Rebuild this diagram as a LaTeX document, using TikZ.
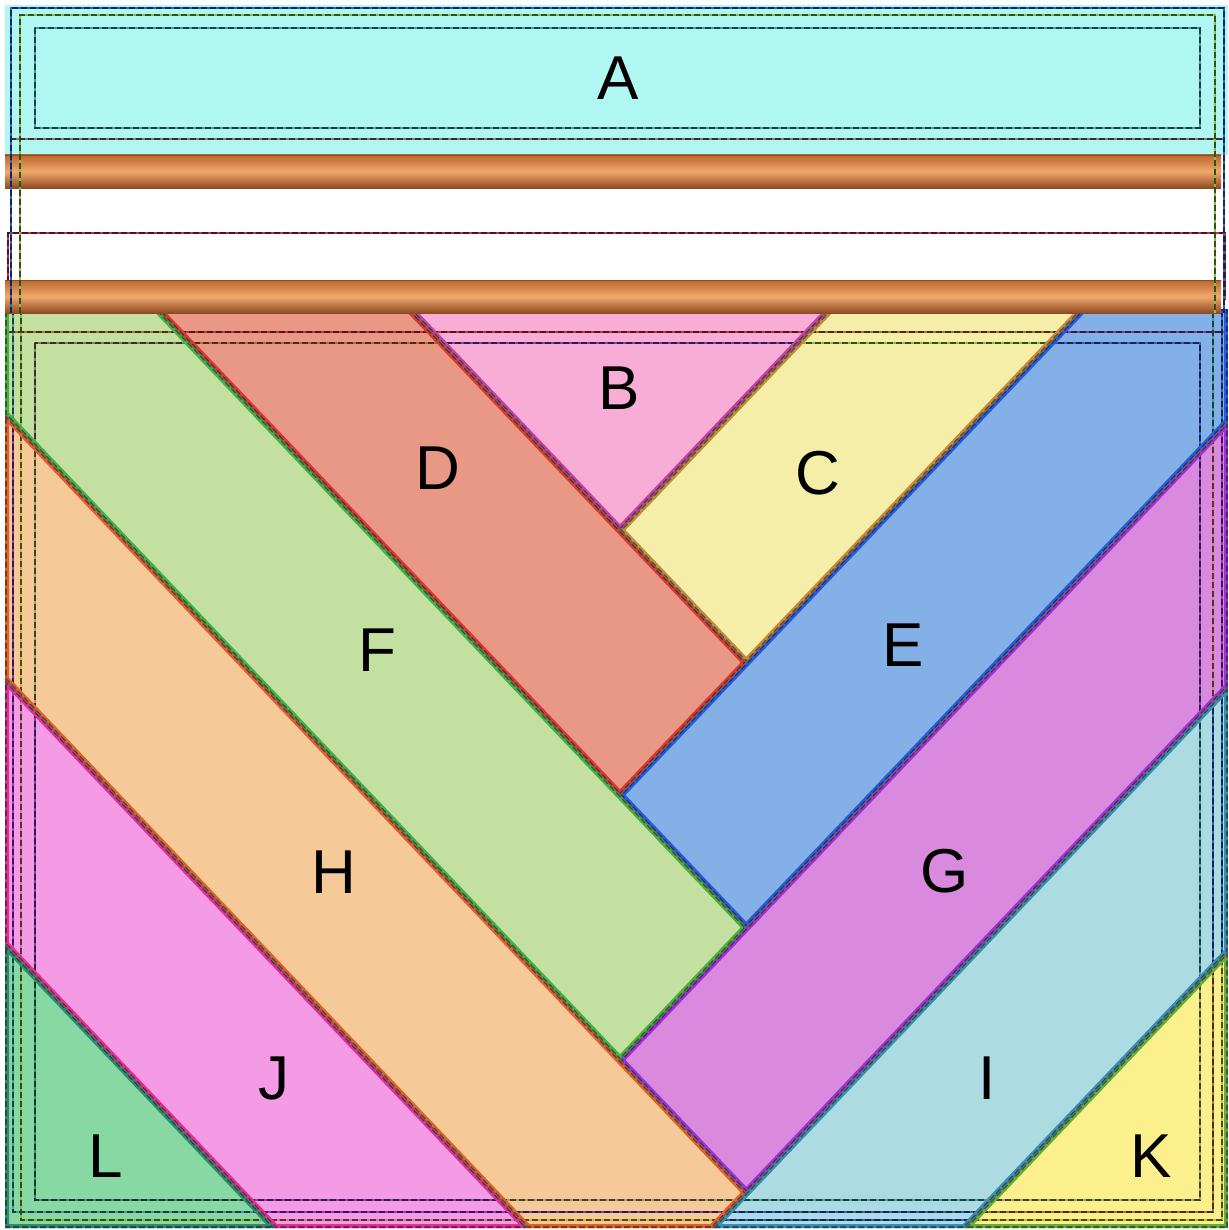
\documentclass[tikz,border=0pt]{standalone}
\usepackage{fontspec}
\newfontfamily\labfont{Liberation Sans}
\definecolor{cA}{HTML}{B0F6F2}
\definecolor{cB}{HTML}{F8ADD6}
\definecolor{cC}{HTML}{F4EEA8}
\definecolor{cD}{HTML}{E89884}
\definecolor{cE}{HTML}{84B0E8}
\definecolor{cF}{HTML}{C4E0A0}
\definecolor{cG}{HTML}{DA8ADE}
\definecolor{cH}{HTML}{F5CA98}
\definecolor{cI}{HTML}{ACDCE2}
\definecolor{cJ}{HTML}{F59AE4}
\definecolor{cK}{HTML}{FCF08C}
\definecolor{cL}{HTML}{88D8A4}
\definecolor{eB}{HTML}{C8409E}
\definecolor{eC}{HTML}{C88A3A}
\definecolor{eD}{HTML}{D83A30}
\definecolor{eE}{HTML}{2A5AD8}
\definecolor{eF}{HTML}{48B040}
\definecolor{eG}{HTML}{9A34D0}
\definecolor{eH}{HTML}{E0602C}
\definecolor{eI}{HTML}{3A8EB0}
\definecolor{eJ}{HTML}{E03090}
\definecolor{eK}{HTML}{60B040}
\definecolor{eL}{HTML}{308A70}
\definecolor{sTeal}{HTML}{409AA8}
\definecolor{sGray}{HTML}{8A7A6A}
\definecolor{sBlue}{HTML}{3060C8}
\definecolor{sGreen}{HTML}{88C040}
\definecolor{sRed}{HTML}{C83040}
\definecolor{sBrown}{HTML}{B07030}
\definecolor{sPurple}{HTML}{7A40B0}
\definecolor{sOlive}{HTML}{A0A070}
\definecolor{sYel}{HTML}{D0B830}
\definecolor{sSalmon}{HTML}{D08080}
\definecolor{barDark}{HTML}{B8682E}
\definecolor{barDark2}{HTML}{8E4A22}
\definecolor{barLight}{HTML}{F2A86C}
\tikzset{
  st/.style={draw=#1, line width=1.4pt,
    postaction={draw=#1!40!black, line width=0.6pt, dash pattern=on 3pt off 1.5pt}},
  lab/.style={font=\labfont\fontsize{31}{31}\selectfont, inner sep=0pt, text=black},
  seam/.style={draw=black!60, line width=0.6pt},
  rod/.style={top color=barDark, bottom color=barDark2, middle color=barLight}
}
% #1 fill, #2 edge, #3 inner rect, #4 line at 332, #5 frame 1, #6 frame 2, #7 path
\newcommand\patch[7]{%
  \begin{scope}
    \clip #7;
    \fill[#1] #7;
    \draw[st=#3] (35,343) rectangle (1200,1200);
    \draw[st=#4] (0,332) -- (1229,332);
    \draw[st=#5] (13,300) -- (13,1212) -- (1213,1212) -- (1213,300);
    \draw[st=#6] (21,300) -- (21,1220) -- (1222,1220) -- (1222,300);
    \draw[line width=4pt, draw=#2] #7;
    \draw[line width=1.8pt, draw=#2!55!black, dash pattern=on 3pt off 1.5pt] #7;
  \end{scope}}
\begin{document}
\begin{tikzpicture}[x=0.5pt,y=-0.5pt]
\useasboundingbox (0,0) rectangle (1229,1230);
\fill[white] (0,0) rectangle (1229,1230);

% ---- top band A
\fill[cA] (5,5) rectangle (1228,155);
\draw[st=sTeal] (35,28) rectangle (1200,128);
\draw[st=sGray] (10,139) -- (1224,139);

% ---- chevron patches
\patch{cB}{eB}{sPurple}{sRed}{sBlue}{sGreen}{(409.5,309) -- (830.5,309) -- (620,530) -- cycle}
\patch{cC}{eC}{sGreen}{sBrown}{sBlue}{sGreen}{(830.5,309) -- (1082.9,309) -- (746.2,662.5) -- (620,530) -- cycle}
\patch{cD}{eD}{sBrown}{sRed}{sBlue}{sGreen}{(157.1,309) -- (409.5,309) -- (620,530) -- (746.2,662.5) -- (620,795) -- cycle}
\patch{cE}{eE}{sBlue}{sPurple}{sTeal}{sBlue}{(1082.9,309) -- (1228,309) -- (1228,421.6) -- (746.2,927.5) -- (620,795) -- (746.2,662.5) -- cycle}
\patch{cF}{eF}{sGray}{sBrown}{sTeal}{sGreen}{(5,309) -- (157.1,309) -- (620,795) -- (746.2,927.5) -- (620,1060) -- (5,414.25) -- cycle}
\patch{cG}{eG}{sPurple}{sPurple}{sSalmon}{eG}{(1228,421.6) -- (1228,686.6) -- (746.2,1192.5) -- (620,1060) -- (746.2,927.5) -- cycle}
\patch{cH}{eH}{sOlive}{sBrown}{sPurple}{sYel}{(5,414.25) -- (620,1060) -- (746.2,1192.5) -- (712.4,1228) -- (527.6,1228) -- (5,679.25) -- cycle}
\patch{cI}{eI}{sTeal}{sTeal}{sBlue}{sBlue}{(1228,686.6) -- (1228,951.6) -- (964.8,1228) -- (712.4,1228) -- (746.2,1192.5) -- cycle}
\patch{cJ}{eJ}{sPurple}{sPurple}{eG}{sSalmon}{(5,679.25) -- (527.6,1228) -- (275.2,1228) -- (5,944.25) -- cycle}
\patch{cK}{eK}{sOlive}{sOlive}{sBrown}{sYel}{(1228,951.6) -- (1228,1228) -- (964.8,1228) -- cycle}
\patch{cL}{eL}{eL}{eL}{sTeal}{sGreen}{(5,944.25) -- (275.2,1228) -- (5,1228) -- cycle}

% ---- seams between patches
\coordinate (l1a) at (409.5,309);  \coordinate (l1b) at (746.2,662.5);
\coordinate (m1a) at (830.5,309);  \coordinate (m1b) at (620,530);
\coordinate (l2a) at (157.1,309);  \coordinate (l2b) at (746.2,927.5);
\coordinate (m2a) at (1082.9,309); \coordinate (m2b) at (620,795);
\coordinate (l3a) at (5,414.25);   \coordinate (l3b) at (746.2,1192.5);
\coordinate (m3a) at (1228,421.6); \coordinate (m3b) at (620,1060);
\coordinate (m4a) at (1228,686.6); \coordinate (m4b) at (712.4,1228);
\coordinate (l4a) at (5,679.25);   \coordinate (l4b) at (527.6,1228);
\coordinate (m5a) at (1228,951.6); \coordinate (m5b) at (964.8,1228);
\coordinate (l5a) at (5,944.25);   \coordinate (l5b) at (275.2,1228);
\foreach \p in {l1,m1,l2,m2,l3,m3,m4,l4,m5,l5}{\draw[seam] (\p a) -- (\p b);}

% ---- rods and the space between them
\draw[st=sRed] (8,300) -- (8,233) -- (1225,233) -- (1225,300);
\shade[rod] (5,155) rectangle (1221,188);
\shade[rod] (5,280) rectangle (1221,313);
\draw[line width=0.4pt, barDark2] (5,155) -- (1221,155) (5,188) -- (1221,188)
  (5,280) -- (1221,280) (5,313) -- (1221,313);
\draw[st=sBlue] (11,313) -- (11,8) -- (1224,8) -- (1224,313);
\draw[st=sGreen] (20,313) -- (20,15) -- (1215,15) -- (1215,313);

% ---- labels
\node[lab] (tA) at (618,78) {A};
\node[lab] (tB) at (619,388) {B};
\node[lab] (tC) at (818,473) {C};
\node[lab] (tD) at (438,468) {D};
\node[lab] (tE) at (903,645) {E};
\node[lab] (tF) at (377,650) {F};
\node[lab] (tG) at (945,871) {G};
\node[lab] (tH) at (334,872) {H};
\node[lab] (tI) at (987,1078) {I};
\node[lab] (tJ) at (274,1078) {J};
\node[lab] (tK) at (1151,1156) {K};
\node[lab] (tL) at (106,1156) {L};
\end{tikzpicture}
\end{document}
